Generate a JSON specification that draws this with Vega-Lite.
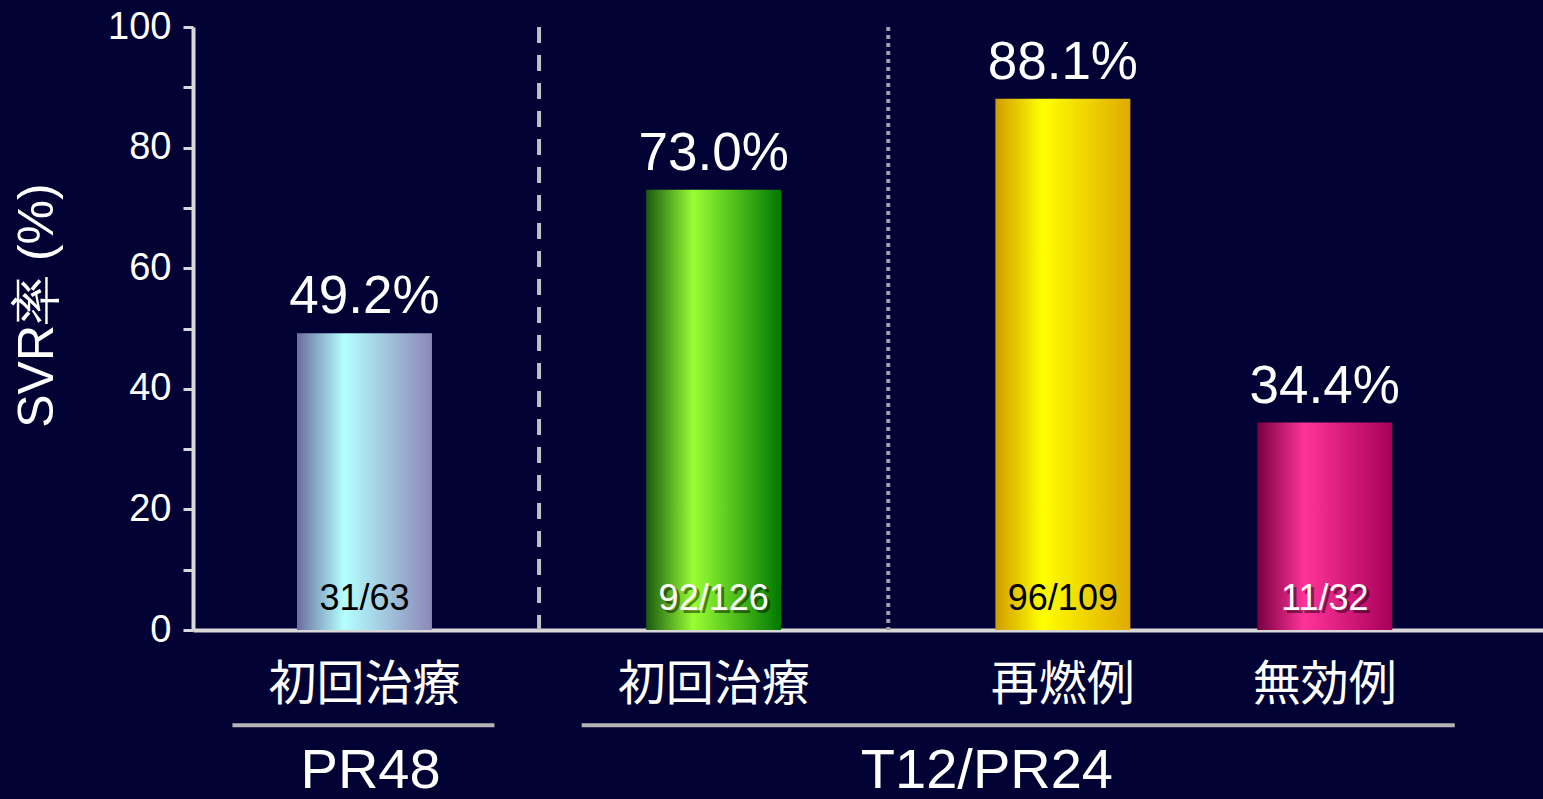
{
  "$schema": "https://vega.github.io/schema/vega-lite/v6.json",
  "autosize": {"type": "none"},
  "width": 1350,
  "height": 603,
  "padding": {"left": 193, "top": 27, "right": 0, "bottom": 169},
  "background": "#020234",
  "config": {"view": {"stroke": null}, "font": "Liberation Sans"},
  "datasets": {
    "bars": [
      {"cat": "PR48 初回治療", "group": "PR48", "svr": 49.2, "n": "31/63"},
      {"cat": "T12 初回治療", "group": "T12/PR24", "svr": 73.0, "n": "92/126"},
      {"cat": "再燃例", "group": "T12/PR24", "svr": 88.1, "n": "96/109"},
      {"cat": "無効例", "group": "T12/PR24", "svr": 34.4, "n": "11/32"}
    ],
    "dividers": [
      {"after": "PR48 初回治療", "kind": "dashed"},
      {"after": "T12 初回治療", "kind": "dotted"}
    ],
    "groups": [
      {"group": "PR48", "from": "PR48 初回治療", "to": "PR48 初回治療", "at": "PR48 初回治療"},
      {"group": "T12/PR24", "from": "T12 初回治療", "to": "無効例", "at": "T12 初回治療"}
    ]
  },
  "layer": [
    {
      "data": {"name": "bars"},
      "mark": {"type": "bar", "width": {"band": 1.546}},
      "encoding": {
        "x": {
          "field": "cat", "type": "nominal", "title": null,
          "scale": {
            "domain": ["_0", "PR48 初回治療", "_1", "_2", "_3", "T12 初回治療", "_4", "_5", "_6", "再燃例", "_7", "_8", "無効例", "_9"],
            "paddingInner": 0, "paddingOuter": 0.732, "align": 0.317
          },
          "axis": {
            "title": null,
            "labelExpr": "(datum.value == 'PR48 初回治療' || datum.value == 'T12 初回治療') ? '初回治療' : ((datum.value == '再燃例' || datum.value == '無効例') ? datum.value : '')",
            "labelAngle": 0, "ticks": false, "labelFontSize": 48, "labelFont": "Noto Sans CJK JP",
            "labelColor": "#ffffff", "labelPadding": 31, "labelLimit": 0, "labelOverlap": false,
            "domainColor": "#d8d8d8", "domainWidth": 4
          }
        },
        "y": {
          "field": "svr", "type": "quantitative",
          "scale": {"domain": [0, 100], "nice": false},
          "axis": {
            "values": [0, 10, 20, 30, 40, 50, 60, 70, 80, 90, 100],
            "labelExpr": "datum.value % 20 == 0 ? datum.label : ''",
            "grid": false, "title": "SVR率 (%)", "titleFontSize": 50, "titleFont": "Liberation Sans",
            "titleFontWeight": "normal", "titleColor": "#ffffff", "titlePadding": 45, "titleY": 278,
            "labelFontSize": 38, "labelColor": "#ffffff", "labelPadding": 12, "labelFont": "Liberation Sans",
            "tickSize": 10, "tickWidth": 3, "tickColor": "#d8d8d8",
            "domainColor": "#d8d8d8", "domainWidth": 4
          }
        },
        "color": {
          "condition": [
            {"test": "datum.cat == 'PR48 初回治療'", "value": {"gradient": "linear", "x1": 0, "y1": 0, "x2": 1, "y2": 0, "stops": [{"offset": 0, "color": "#6a6ea0"}, {"offset": 0.35, "color": "#b4ffff"}, {"offset": 1, "color": "#8c88b8"}]}},
            {"test": "datum.cat == 'T12 初回治療'", "value": {"gradient": "linear", "x1": 0, "y1": 0, "x2": 1, "y2": 0, "stops": [{"offset": 0, "color": "#1a5a10"}, {"offset": 0.35, "color": "#99ff33"}, {"offset": 1, "color": "#007800"}]}},
            {"test": "datum.cat == '再燃例'", "value": {"gradient": "linear", "x1": 0, "y1": 0, "x2": 1, "y2": 0, "stops": [{"offset": 0, "color": "#d09c00"}, {"offset": 0.35, "color": "#ffff00"}, {"offset": 1, "color": "#e0aa00"}]}}
          ],
          "value": {"gradient": "linear", "x1": 0, "y1": 0, "x2": 1, "y2": 0, "stops": [{"offset": 0, "color": "#780040"}, {"offset": 0.35, "color": "#ff3399"}, {"offset": 1, "color": "#a8005a"}]}
        }
      }
    },
    {
      "data": {"name": "bars"},
      "transform": [{"calculate": "format(datum.svr, '.1f') + '%'", "as": "pct"}],
      "mark": {"type": "text", "fontSize": 53, "color": "#ffffff", "baseline": "alphabetic", "dy": -20, "font": "Liberation Sans"},
      "encoding": {
        "x": {"field": "cat", "type": "nominal", "title": null},
        "y": {"field": "svr", "type": "quantitative"},
        "text": {"field": "pct"}
      }
    },
    {
      "data": {"name": "bars"},
      "transform": [{"filter": "datum.cat == 'T12 初回治療' || datum.cat == '無効例'"}],
      "mark": {"type": "text", "fontSize": 36, "color": "#000000", "opacity": 0.45, "baseline": "alphabetic", "dy": -17, "dx": 3, "font": "Liberation Sans"},
      "encoding": {
        "x": {"field": "cat", "type": "nominal", "title": null},
        "y": {"datum": 0, "type": "quantitative"},
        "text": {"field": "n"}
      }
    },
    {
      "data": {"name": "bars"},
      "mark": {"type": "text", "fontSize": 36, "baseline": "alphabetic", "dy": -20, "font": "Liberation Sans"},
      "encoding": {
        "x": {"field": "cat", "type": "nominal", "title": null},
        "y": {"datum": 0, "type": "quantitative"},
        "text": {"field": "n"},
        "color": {"condition": {"test": "datum.cat == 'PR48 初回治療' || datum.cat == '再燃例'", "value": "#000000"}, "value": "#ffffff"}
      }
    },
    {
      "data": {"name": "dividers"},
      "transform": [{"filter": "datum.kind == 'dashed'"}],
      "mark": {"type": "rule", "color": "#c0c0c8", "strokeWidth": 4, "strokeDash": [16, 12]},
      "encoding": {
        "x": {"field": "after", "type": "nominal", "bandPosition": 2.5, "title": null}
      }
    },
    {
      "data": {"name": "dividers"},
      "transform": [{"filter": "datum.kind == 'dotted'"}],
      "mark": {"type": "rule", "color": "#a0a0a8", "strokeWidth": 4, "strokeDash": [4, 4]},
      "encoding": {
        "x": {"field": "after", "type": "nominal", "bandPosition": 2.5, "title": null}
      }
    },
    {
      "data": {"name": "groups"},
      "mark": {"type": "rule", "color": "#b4b4b4", "strokeWidth": 4, "xOffset": -132, "x2Offset": 130},
      "encoding": {
        "x": {"field": "from", "type": "nominal", "bandPosition": 0.5, "title": null},
        "x2": {"field": "to", "bandPosition": 0.5},
        "y": {"datum": -15.8, "type": "quantitative"}
      }
    },
    {
      "data": {"name": "groups"},
      "transform": [{"filter": "datum.group == 'PR48'"}],
      "mark": {"type": "text", "fontSize": 56, "color": "#ffffff", "baseline": "alphabetic", "font": "Liberation Sans"},
      "encoding": {
        "x": {"field": "at", "type": "nominal", "bandPosition": 0.57, "title": null},
        "y": {"datum": -26.2, "type": "quantitative"},
        "text": {"field": "group"}
      }
    },
    {
      "data": {"name": "groups"},
      "transform": [{"filter": "datum.group == 'T12/PR24'"}],
      "mark": {"type": "text", "fontSize": 56, "color": "#ffffff", "baseline": "alphabetic", "font": "Liberation Sans"},
      "encoding": {
        "x": {"field": "at", "type": "nominal", "bandPosition": 3.63, "title": null},
        "y": {"datum": -26.2, "type": "quantitative"},
        "text": {"field": "group"}
      }
    }
  ]
}
